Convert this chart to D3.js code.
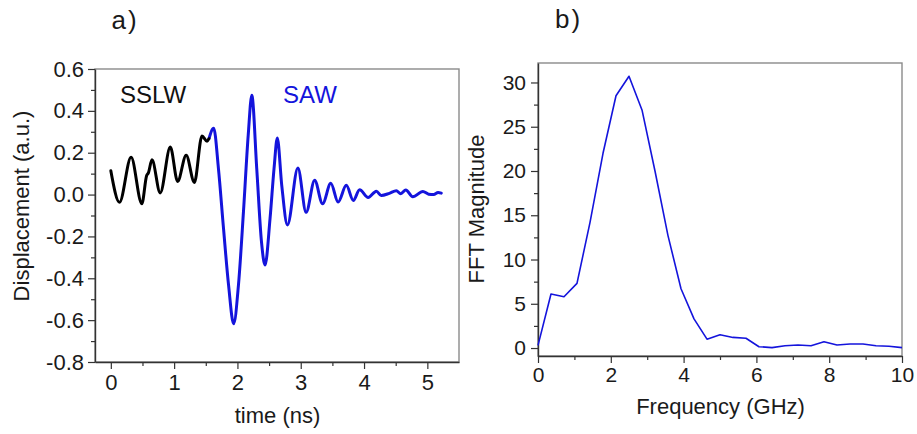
<!DOCTYPE html>
<html>
<head>
<meta charset="utf-8">
<script src="https://cdn.jsdelivr.net/npm/d3@7"></script>
<style>
  html, body { margin: 0; padding: 0; background: #fff; }
  svg { display: block; font-family: "Liberation Sans", Arial, sans-serif; }
</style>
</head>
<body>
<svg id="chart" width="917" height="434"></svg>
<script>
// ---------- DATA ----------
// Panel a) : SSLW (black) time trace, time in ns, displacement in a.u.
const sslwTime = [0.00, 0.137, 0.32, 0.49, 0.565, 0.595, 0.65, 0.78, 0.94, 1.055, 1.19, 1.32, 1.44, 1.52, 1.55];
const sslwDisp = [0.114, -0.037, 0.178, -0.044, 0.090, 0.105, 0.166, 0.008, 0.227, 0.063, 0.188, 0.058, 0.280, 0.255, 0.267];

// Panel a) : SAW (blue) time trace
const sawTime = [1.55, 1.625, 1.70, 1.78, 1.86, 1.94, 2.016, 2.095, 2.17, 2.227, 2.305, 2.38, 2.436,
                 2.515, 2.578, 2.63, 2.70, 2.79, 2.955, 3.085, 3.22, 3.345, 3.475, 3.59, 3.72, 3.83,
                 3.93, 4.065, 4.195, 4.27, 4.40, 4.51, 4.58, 4.66, 4.77, 4.93, 5.02, 5.10, 5.17, 5.22];
const sawDisp = [0.267, 0.317, 0.124, -0.162, -0.433, -0.617, -0.433, -0.083, 0.283, 0.474, 0.124, -0.226, -0.337,
                 -0.115, 0.124, 0.270, 0.044, -0.145, 0.127, -0.085, 0.068, -0.044, 0.054, -0.036, 0.044, -0.028,
                 0.023, -0.014, 0.016, -0.004, 0.006, 0.018, 0.004, 0.022, -0.011, 0.015, 0.002, 0.000, 0.010, 0.007];

// Panel b) : FFT magnitude vs frequency (GHz)
const fftFreq = [0, 0.357, 0.714, 1.071, 1.429, 1.786, 2.143, 2.5, 2.857, 3.214, 3.571, 3.929, 4.286, 4.643,
                 5.0, 5.357, 5.714, 6.071, 6.429, 6.786, 7.143, 7.5, 7.857, 8.214, 8.571, 8.929, 9.286, 9.643, 10];
const fftMag  = [0.3, 6.1, 5.8, 7.3, 14.2, 22.0, 28.5, 30.7, 26.9, 20.0, 12.7, 6.7, 3.3, 1.0,
                 1.5, 1.2, 1.1, 0.15, 0.05, 0.25, 0.35, 0.25, 0.7, 0.35, 0.45, 0.45, 0.25, 0.2, 0.05];

// Tick values
const aXTicks = [0, 1, 2, 3, 4, 5];
const aXMinor = [0.5, 1.5, 2.5, 3.5, 4.5];
const aYTicks = [-0.8, -0.6, -0.4, -0.2, 0.0, 0.2, 0.4, 0.6];
const aYMinor = [-0.7, -0.5, -0.3, -0.1, 0.1, 0.3, 0.5];
const bXTicks = [0, 2, 4, 6, 8, 10];
const bXMinor = [1, 3, 5, 7, 9];
const bYTicks = [0, 5, 10, 15, 20, 25, 30];
const bYMinor = [2.5, 7.5, 12.5, 17.5, 22.5, 27.5];

// ---------- STYLE ----------
const BLUE = "#1414dc";
const AXIS = "#333";
const FRAME = "#8a8a8a";

const svg = d3.select("#chart");

function panel(opts) {
  const g = svg.append("g");
  const x = d3.scaleLinear().domain(opts.xDomain).range([opts.x0, opts.x1]);
  const y = d3.scaleLinear().domain(opts.yDomain).range([opts.y1, opts.y0]);

  // frame
  g.append("rect")
    .attr("x", opts.x0).attr("y", opts.y0)
    .attr("width", opts.x1 - opts.x0).attr("height", opts.y1 - opts.y0)
    .attr("fill", "none").attr("stroke", FRAME).attr("stroke-width", 1.4);

  // minor ticks
  g.append("g").attr("transform", `translate(0,${opts.y1})`)
    .call(d3.axisBottom(x).tickValues(opts.xMinor).tickSize(4).tickSizeOuter(0).tickFormat(""))
    .call(s => s.select(".domain").remove());
  g.append("g").attr("transform", `translate(${opts.x0},0)`)
    .call(d3.axisLeft(y).tickValues(opts.yMinor).tickSize(4).tickSizeOuter(0).tickFormat(""))
    .call(s => s.select(".domain").remove());

  // major axes
  const xa = g.append("g").attr("transform", `translate(0,${opts.y1})`)
    .call(d3.axisBottom(x).tickValues(opts.xTicks).tickSize(7).tickSizeOuter(0)
      .tickPadding(opts.xPad).tickFormat(opts.xFmt));
  const ya = g.append("g").attr("transform", `translate(${opts.x0},0)`)
    .call(d3.axisLeft(y).tickValues(opts.yTicks).tickSize(7).tickSizeOuter(0)
      .tickPadding(opts.yPad).tickFormat(opts.yFmt));

  g.selectAll(".tick line").attr("stroke", AXIS).attr("stroke-width", 1.2);
  g.selectAll(".domain").attr("stroke", AXIS).attr("stroke-width", 1.4);
  [xa, ya].forEach(a => a.selectAll("text")
    .attr("fill", "#1a1a1a")
    .style("font-size", opts.tickFont + "px")
    .style("font-family", '"Liberation Sans", Arial, sans-serif'));

  return { g, x, y };
}

// ---------- PANEL A ----------
const A = panel({
  x0: 95, x1: 459, y0: 69, y1: 362,
  xDomain: [-0.25, 5.5], yDomain: [-0.8, 0.6],
  xTicks: aXTicks, xMinor: aXMinor, yTicks: aYTicks, yMinor: aYMinor,
  xFmt: d => String(d), yFmt: d => d.toFixed(1),
  xPad: 5, yPad: 4, tickFont: 22
});

const lineA = d3.line().x(d => A.x(d[0])).y(d => A.y(d[1])).curve(d3.curveMonotoneX);

A.g.append("path")
  .datum(sawTime.map((t, i) => [t, sawDisp[i]]))
  .attr("d", lineA).attr("fill", "none")
  .attr("stroke", BLUE).attr("stroke-width", 3)
  .attr("stroke-linejoin", "round").attr("stroke-linecap", "round");

A.g.append("path")
  .datum(sslwTime.map((t, i) => [t, sslwDisp[i]]))
  .attr("d", lineA).attr("fill", "none")
  .attr("stroke", "#000").attr("stroke-width", 3)
  .attr("stroke-linejoin", "round").attr("stroke-linecap", "round");

A.g.append("text").attr("x", 120).attr("y", 103)
  .style("font-size", "24px").attr("fill", "#111").text("SSLW");
A.g.append("text").attr("x", 283).attr("y", 103)
  .style("font-size", "24px").attr("fill", BLUE).text("SAW");

// ---------- PANEL B ----------
const B = panel({
  x0: 538, x1: 902, y0: 63, y1: 356,
  xDomain: [0, 10], yDomain: [-0.9, 32.2],
  xTicks: bXTicks, xMinor: bXMinor, yTicks: bYTicks, yMinor: bYMinor,
  xFmt: d => String(d), yFmt: d => String(d),
  xPad: 4, yPad: 5, tickFont: 21
});

const lineB = d3.line().x(d => B.x(d[0])).y(d => B.y(d[1]));
B.g.append("path")
  .datum(fftFreq.map((f, i) => [f, fftMag[i]]))
  .attr("d", lineB).attr("fill", "none")
  .attr("stroke", BLUE).attr("stroke-width", 1.6)
  .attr("stroke-linejoin", "round");

// ---------- TITLES ----------
const txt = (x, y, s, size, anchor, rot) => {
  const t = svg.append("text")
    .attr("transform", `translate(${x},${y})` + (rot ? " rotate(-90)" : ""))
    .attr("text-anchor", anchor || "start")
    .attr("fill", "#1a1a1a")
    .style("font-size", size + "px")
    .text(s);
  return t;
};

txt(111.5, 28.5, "a)", 26).style("letter-spacing", "2px");
txt(555, 27.5, "b)", 26).style("letter-spacing", "2px");

txt(277.5, 423, "time (ns)", 22, "middle");
txt(720.5, 414, "Frequency (GHz)", 22, "middle");
txt(28.5, 206, "Displacement (a.u.)", 22, "middle", true);
txt(484, 209, "FFT Magnitude", 22, "middle", true);
</script>
</body>
</html>
